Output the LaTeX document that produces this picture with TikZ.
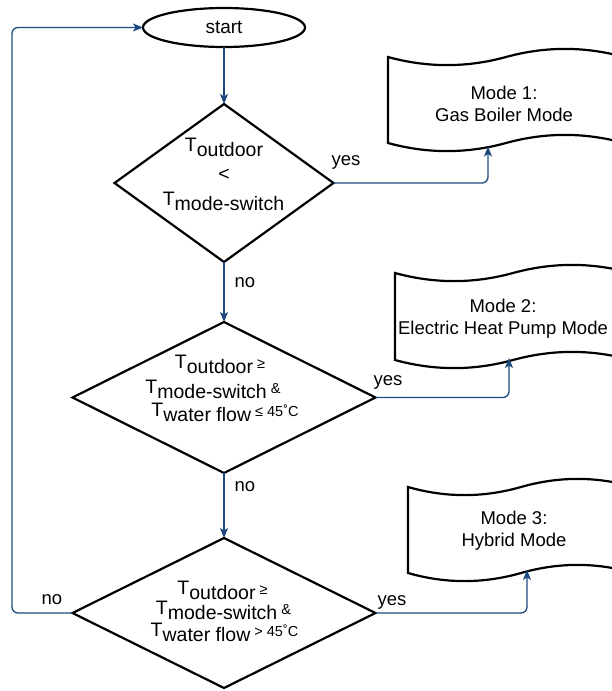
\documentclass[tikz,border=0pt]{standalone}
\usepackage{fontspec}
\setmainfont{Liberation Sans}
\usetikzlibrary{shapes.geometric,arrows.meta}
\definecolor{lnk}{HTML}{1B4A7E}
\newcommand\Tsub[2]{{\fontsize{19.5}{22}\selectfont T\raisebox{-5pt}{#1}}{\fontsize{14.5}{16}\selectfont #2}}
\newcommand\tapeshape[5]{%
 \draw[shp] (#1,{#2+#4/2}) .. controls ({#1+#3/6},{#2+1.1*#4}) and ({#1+#3/3},{#2+1.1*#4}) .. ({#1+#3/2},{#2+#4/2})
 .. controls ({#1+2*#3/3},{#2-0.1*#4}) and ({#1+5*#3/6},{#2-0.1*#4}) .. ({#1+#3},{#2+#4/2})
 -- ({#1+#3},{#2+#5-#4/2})
 .. controls ({#1+5*#3/6},{#2+#5-1.1*#4}) and ({#1+2*#3/3},{#2+#5-1.1*#4}) .. ({#1+#3/2},{#2+#5-#4/2})
 .. controls ({#1+#3/3},{#2+#5+0.1*#4}) and ({#1+#3/6},{#2+#5+0.1*#4}) .. (#1,{#2+#5-#4/2}) -- cycle;}
\tikzset{
 shp/.style={draw=black, line width=2.2pt, line join=miter},
 dia/.style={shp, diamond, inner sep=0pt, outer sep=0pt},
 conn/.style={draw=lnk, line width=1.3pt, rounded corners=6pt, -{Stealth[length=10pt,width=8pt,inset=2.5pt]}},
 lbl/.style={font=\fontsize{18.5}{22}\selectfont, inner sep=0pt},
 txt/.style={font=\fontsize{18.5}{22}\selectfont, align=center, inner sep=0pt},
 dl/.style={anchor=base, inner sep=0pt}
}
\begin{document}
\begin{tikzpicture}[x=1pt,y=-1pt]
\useasboundingbox (0,0) rectangle (612,691);
% start
\node[shp, ellipse, minimum width=162, minimum height=39, inner sep=0pt, outer sep=0pt,
      font=\fontsize{19}{22}\selectfont] (start) at (224,27.5) {start};
% diamonds
\node[dia, minimum width=219, minimum height=158] (d1) at (224,183) {};
\node[dia, minimum width=303, minimum height=151] (d2) at (224,397.5) {};
\node[dia, minimum width=303, minimum height=150] (d3) at (224,613) {};
% diamond texts
\node[dl] (d1a) at (224,151.7) {\Tsub{outdoor}{}};
\node[dl, font=\fontsize{19.5}{22}\selectfont] (d1b) at (224,180) {<};
\node[dl] (d1c) at (223.5,205) {\Tsub{mode-switch}{}};
\node[dl] (d2a) at (220,368) {\Tsub{outdoor}{ ≥}};
\node[dl] (d2b) at (213,393) {\Tsub{mode-switch}{ \&}};
\node[dl] (d2c) at (225,416) {\Tsub{water flow}{ ≤ 45˚C}};
\node[dl] (d3a) at (222.5,594) {\Tsub{outdoor}{ ≥}};
\node[dl] (d3b) at (223.5,614) {\Tsub{mode-switch}{ \&}};
\node[dl] (d3c) at (224.5,636) {\Tsub{water flow}{ > 45˚C}};
% mode boxes
\tapeshape{388}{48}{236}{18}{104}
\node[txt] (m1) at (504,104) {Mode 1:\\Gas Boiler Mode};
\tapeshape{395}{264}{236}{18}{105}
\node[txt] (m2) at (503,319) {Mode 2:\\Electric Heat Pump Mode};
\tapeshape{408}{478}{226}{18}{104}
\node[txt] (m3) at (514,531) {Mode 3:\\Hybrid Mode};
\coordinate (m1in) at (488,146.5);
\coordinate (m2in) at (509,358);
\coordinate (m3in) at (527,570);
\coordinate (lp) at (12,613);
% connectors
\draw[conn] (start.south) -- (d1.north);
\draw[conn] (d1.east) -| (m1in);
\draw[conn] (d1.south) -- (d2.north);
\draw[conn] (d2.east) -| (m2in);
\draw[conn] (d2.south) -- (d3.north);
\draw[conn] (d3.east) -| (m3in);
\draw[conn] (d3.west) -- (lp) |- (start.west);
% labels
\node[lbl] (y1) at (346,162) {yes};
\node[lbl] (n1) at (245,283) {no};
\node[lbl] (y2) at (388,382) {yes};
\node[lbl] (n2) at (245,487) {no};
\node[lbl] (y3) at (392,602) {yes};
\node[lbl] (n3) at (52,600) {no};
\end{tikzpicture}
\end{document}
